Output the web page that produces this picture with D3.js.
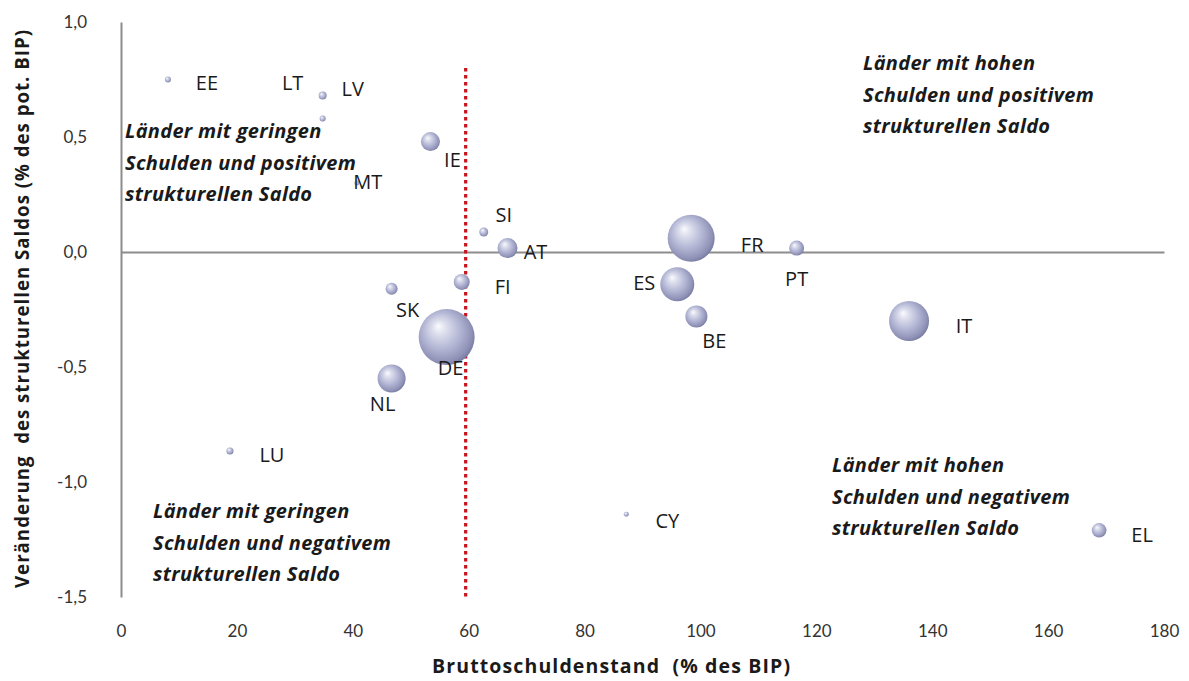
<!DOCTYPE html>
<html>
<head>
<meta charset="utf-8">
<script src="https://cdn.jsdelivr.net/npm/d3@7"></script>
<style>
  html, body { margin: 0; padding: 0; background: #fff; }
  svg { display: block; }
</style>
</head>
<body>
<svg id="chart" width="1189" height="681"></svg>
<script>
// ---- data ----
const countries = ["EE","LV","LT","MT","IE","SI","AT","FI","SK","DE","NL","LU","CY","FR","PT","ES","BE","IT","EL"];
const debt      = [8.1, 34.8, 34.8, 40.7, 53.4, 62.6, 66.7, 58.8, 46.7, 56.2, 46.7, 18.8, 87.2, 98.4, 116.6, 96.0, 99.3, 136.0, 168.8];
const saldo     = [0.75, 0.68, 0.58, 0.30, 0.48, 0.087, 0.017, -0.13, -0.16, -0.37, -0.55, -0.865, -1.14, 0.06, 0.017, -0.14, -0.28, -0.30, -1.21];
const bip       = [32, 57, 32, 22, 322, 72, 357, 228, 129, 2800, 700, 44, 22, 1972, 201, 1032, 432, 1428, 190];
const xTicks    = [0, 20, 40, 60, 80, 100, 120, 140, 160, 180];
const yTicks    = [1.0, 0.5, 0.0, -0.5, -1.0, -1.5];
const referenceDebt = 60;
const xTitle = "Bruttoschuldenstand  (% des BIP)";
const yTitle = "Veränderung  des strukturellen Saldos (% des pot. BIP)";
const quadrantTexts = [
  ["Länder mit geringen", "Schulden und positivem", "strukturellen Saldo"],
  ["Länder mit hohen", "Schulden und positivem", "strukturellen Saldo"],
  ["Länder mit hohen", "Schulden und negativem", "strukturellen Saldo"],
  ["Länder mit geringen", "Schulden und negativem", "strukturellen Saldo"]
];

// ---- layout (pixel offsets of labels relative to bubble centre) ----
const labelOffset = {
  EE:[39,3], LV:[30,-7], LT:[-30,-36], MT:[11,-2], IE:[22,18], SI:[20,-17], AT:[28,3],
  FI:[41,5], SK:[16,21], DE:[4,30], NL:[-9,25], LU:[42,4], CY:[41,6], FR:[61,6],
  PT:[0,30], ES:[-33,-2], BE:[18,24], IT:[55,4], EL:[43,4]
};
const quadrantPos = [[125,132],[863,64],[832,466],[153,512]];
const lineGap = 31.5;

const svg = d3.select("#chart");
const x = d3.scaleLinear().domain([0, 180]).range([121, 1164]);
const y = d3.scaleLinear().domain([-1.5, 1.0]).range([597, 22]);
const r = d3.scaleSqrt().domain([0, 2800]).range([0, 28]);

// gradient for spheres
const defs = svg.append("defs");
const g = defs.append("radialGradient").attr("id","sphere")
  .attr("cx","45%").attr("cy","45%").attr("r","60%").attr("fx","35%").attr("fy","30%");
[["0%","#fbfbfe"],["18%","#e0e2ef"],["55%","#b3b6d4"],["85%","#8f92b6"],["100%","#70739a"]]
  .forEach(s => g.append("stop").attr("offset", s[0]).attr("stop-color", s[1]));

// axes
const yAxis = d3.axisLeft(y).tickValues(yTicks).tickSize(0).tickPadding(34)
  .tickFormat(d => d3.format(".1f")(d).replace(".", ",").replace("−","-"));
const yg = svg.append("g").attr("transform", `translate(${x(0)},0)`).call(yAxis);
yg.select(".domain").attr("stroke", "#8c8c8c").attr("stroke-width", 2);
yg.selectAll("text").attr("font-family", "Lato, 'Open Sans', sans-serif")
  .attr("font-size", 17).attr("fill", "#333");

const xAxis = d3.axisBottom(x).tickValues(xTicks).tickSize(0).tickFormat(d3.format("d"));
const xg = svg.append("g").attr("transform", `translate(0,${y(0)})`).call(xAxis);
xg.select(".domain").attr("stroke", "#8c8c8c").attr("stroke-width", 2);
xg.selectAll("text").attr("font-family", "Lato, 'Open Sans', sans-serif")
  .attr("font-size", 17).attr("fill", "#333")
  .attr("y", 0).attr("dy", y(-1.5) - y(0) + 40);

// reference line at 60%
svg.append("line")
  .attr("x1", x(referenceDebt) - 3).attr("x2", x(referenceDebt) - 3)
  .attr("y1", 68).attr("y2", y(-1.5))
  .attr("stroke", "#c8141e").attr("stroke-width", 3.2).attr("stroke-dasharray", "3.5,3.5");

// bubbles
const pts = countries.map((c,i) => ({c, x: debt[i], y: saldo[i], s: bip[i]}));
svg.append("g").selectAll("circle")
  .data(pts.slice().sort((a,b) => b.s - a.s))
  .join("circle")
  .attr("cx", d => x(d.x)).attr("cy", d => y(d.y)).attr("r", d => r(d.s))
  .attr("fill", "url(#sphere)");

// labels
svg.append("g").selectAll("text").data(pts).join("text")
  .attr("x", d => x(d.x) + labelOffset[d.c][0])
  .attr("y", d => y(d.y) + labelOffset[d.c][1])
  .attr("text-anchor", "middle").attr("dominant-baseline", "central")
  .attr("font-family", "'Open Sans', sans-serif").attr("font-size", 20).attr("fill", "#1a1a1a")
  .text(d => d.c);

// quadrant texts
quadrantTexts.forEach((lines, qi) => {
  const t = svg.append("text")
    .attr("font-family", "'Open Sans', sans-serif").attr("font-size", 20)
    .attr("font-weight", "bold").attr("font-style", "italic").attr("fill", "#1a1a1a")
    .attr("letter-spacing", 0.3);
  lines.forEach((l, li) => {
    t.append("tspan").attr("x", quadrantPos[qi][0]).attr("y", quadrantPos[qi][1] + li * lineGap + 6).text(l);
  });
});

// axis titles
svg.append("text").attr("x", 432).attr("y", 673)
  .attr("font-family", "'Open Sans', sans-serif").attr("font-size", 19.5).attr("font-weight", "bold")
  .attr("fill", "#1a1a1a").style("white-space", "pre")
  .attr("textLength", 358).attr("lengthAdjust", "spacing").text(xTitle);
svg.append("text").attr("transform", "translate(29,588) rotate(-90)")
  .attr("font-family", "'Open Sans', sans-serif").attr("font-size", 18.7).attr("font-weight", "bold")
  .attr("fill", "#1a1a1a").style("white-space", "pre")
  .attr("textLength", 558).attr("lengthAdjust", "spacing").text(yTitle);
</script>
</body>
</html>
